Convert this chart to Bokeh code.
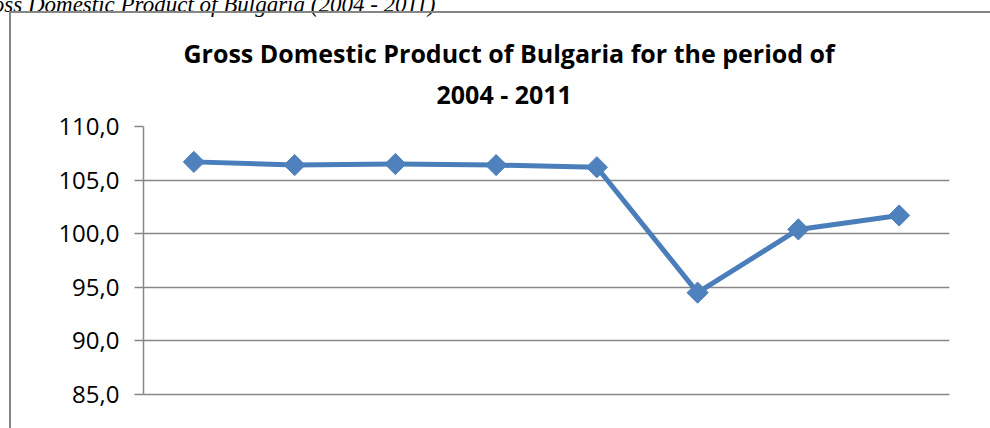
import numpy as np
from bokeh.plotting import figure
from bokeh.models import (FactorRange, Range1d, FixedTicker, Title, ColumnDataSource,
                          InlineStyleSheet)
from bokeh.embed import file_html
from bokeh.resources import INLINE

# ---- data ----
years = ["2004", "2005", "2006", "2007", "2008", "2009", "2010", "2011"]
gdp = [106.7, 106.4, 106.5, 106.4, 106.2, 94.5, 100.4, 101.7]
y_ticks = [85, 90, 95, 100, 105, 110]
y_tick_labels = ["85,0", "90,0", "95,0", "100,0", "105,0", "110,0"]
title_line1 = "Gross Domestic Product of Bulgaria for the period of"
title_line2 = "2004 - 2011"
caption = "Gross Domestic Product of Bulgaria (2004 - 2011)"

GRID = "#878787"
BLUE = "#4A7EBB"
FONT = "Open Sans"
SHIFT = 50  # canvas starts above the page top so the caption can be cut off like the reference

border_css = InlineStyleSheet(css="""
:host { position: relative; }
:host::after {
  content: "";
  position: absolute;
  left: 9px; top: %dpx; right: 0px; bottom: 0px;
  border-left: 2px solid #868686;
  border-top: 2px solid #868686;
  pointer-events: none;
}
""" % (11 + SHIFT))

src = ColumnDataSource(data=dict(year=years, gdp=gdp))

p = figure(width=990, height=428 + SHIFT, x_range=FactorRange(*years), y_range=Range1d(85, 110),
           output_backend="svg", toolbar_location=None, title=None,
           min_border_left=143, min_border_right=41, min_border_top=126 + SHIFT,
           min_border_bottom=34, stylesheets=[border_css],
           styles={"margin-top": "-%dpx" % SHIFT})
p.x_range.range_padding = 0
p.outline_line_color = None
p.background_fill_color = "white"
p.border_fill_color = "white"

# y axis
p.yaxis.ticker = FixedTicker(ticks=y_ticks)
p.yaxis.major_label_overrides = {t: l for t, l in zip(y_ticks, y_tick_labels)}
p.yaxis.major_label_text_font = FONT
p.yaxis.major_label_text_font_size = "24px"
p.yaxis.major_label_text_color = "black"
p.yaxis.axis_line_color = GRID
p.yaxis.axis_line_width = 1.5
p.yaxis.major_tick_line_color = GRID
p.yaxis.major_tick_line_width = 1.5
p.yaxis.major_tick_out = 9
p.yaxis.major_tick_in = 0
p.yaxis.minor_tick_line_color = None
p.yaxis.major_label_standoff = 15

# x axis
p.xaxis.axis_line_color = GRID
p.xaxis.axis_line_width = 1.5
p.xaxis.major_tick_line_color = None
p.xaxis.minor_tick_line_color = None
p.xaxis.major_label_text_color = None
p.xaxis.group_text_color = None

p.xgrid.grid_line_color = None
p.ygrid.grid_line_color = GRID
p.ygrid.grid_line_width = 1.5

p.line("year", "gdp", source=src, line_color=BLUE, line_width=5, line_join="round")
p.scatter("year", "gdp", source=src, marker="square", angle=np.pi / 4, size=15,
          fill_color="#4F81BD", line_color="#4F81BD")

# titles (nearest the frame first)
p.add_layout(Title(text=title_line2, align="left", offset=293, standoff=32,
                   text_font=FONT, text_font_style="bold", text_font_size="25px",
                   text_color="black"), "above")
p.add_layout(Title(text=title_line1, align="left", offset=40, standoff=-22,
                   text_font=FONT, text_font_style="bold", text_font_size="25px",
                   text_color="black"), "above")
p.add_layout(Title(text=caption, align="right", offset=514, standoff=55,
                   text_font="Liberation Serif", text_font_style="italic",
                   text_font_size="23px", text_color="black"), "above")

open("out.html", "w").write(file_html(p, INLINE))
